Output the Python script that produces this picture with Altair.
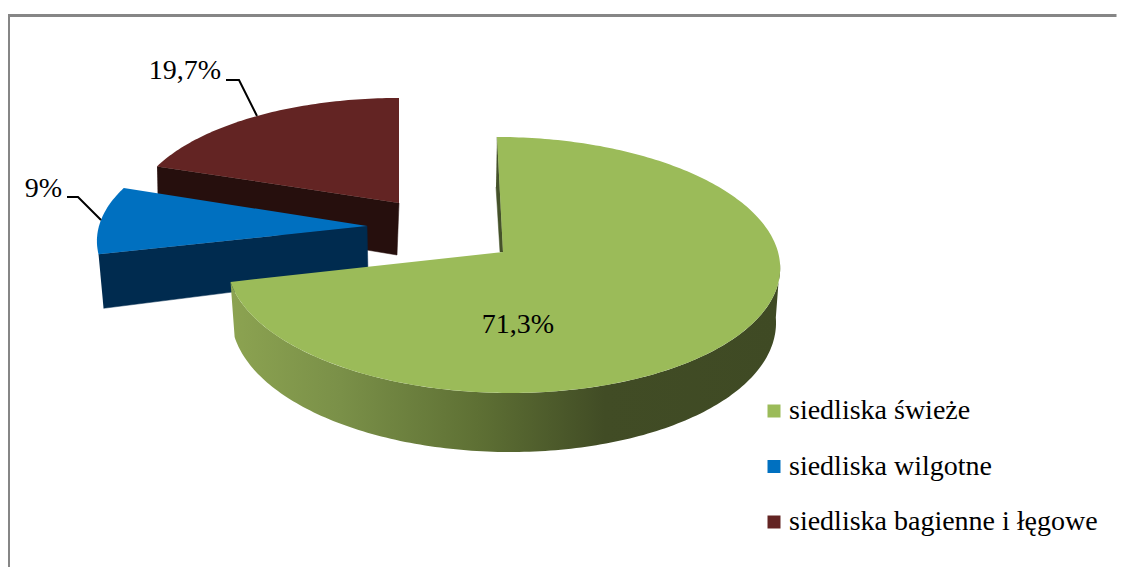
import math
import altair as alt
import pandas as pd

categories = ["siedliska świeże", "siedliska wilgotne", "siedliska bagienne i łęgowe"]
shares = [71.3, 9, 19.7]
labels = ["71,3%", "9%", "19,7%"]
colors = ["#9bbb59", "#0070c0", "#632423"]
FONT = "Liberation Serif"

# picture geometry of the exploded 3-D pie: apex x, apex y, radii, shear
apex = [(503, 252), (367, 226), (399, 203)]
radius_x = [275, 268, 264.5]
radius_y = [126.7, 120, 115.7]
shear = [-6.6, 6, 0]
persp = 0.1015

W, H = 1110, 560
X = alt.X("x:Q", scale=alt.Scale(domain=[8, 8 + W]), axis=None)
Y = alt.Y("y:Q", scale=alt.Scale(domain=[8 + H, 8]), axis=None)

starts = [0]
for s in shares:
    starts.append(starts[-1] + s * 3.6)


def project(i, deg):
    a = math.radians(deg)
    u, v = math.sin(a), math.cos(a)
    d = 1 + persp * v
    return apex[i][0] + (radius_x[i] * u + shear[i] * v) / d, apex[i][1] - radius_y[i] * v / d


def sweep(i, a0, a1):
    n = max(2, int(abs(a1 - a0)))
    return [project(i, a0 + (a1 - a0) * k / n) for k in range(n + 1)]


def shape(points, cat=None):
    rows = [{"x": p[0], "y": p[1], "o": k, "cat": cat} for k, p in enumerate(points)]
    return pd.DataFrame(rows)


def solid(points, fill):
    return alt.Chart(shape(points)).mark_line(fill=fill, stroke=fill, strokeWidth=0.5).encode(
        x=X, y=Y, order="o:Q")


def top(i):
    pts = [apex[i]] + sweep(i, starts[i], starts[i + 1])
    return alt.Chart(shape(pts, categories[i])).mark_line(strokeWidth=0).encode(
        x=X, y=Y, order="o:Q",
        fill=alt.Fill("cat:N", scale=alt.Scale(domain=categories, range=colors),
                      legend=alt.Legend(title=None, orient="none", legendX=752, legendY=389,
                                        symbolType="square", symbolSize=169, symbolStrokeWidth=0,
                                        labelFont=FONT, labelFontSize=28, labelColor="black",
                                        labelLimit=400, rowPadding=27.5, labelOffset=1, padding=0,
                                        symbolOffset=0)))


# green rim wall
a0, a1 = 95, starts[1]
front = sweep(0, a0, a1)
rim_v = [math.cos(math.radians(a0 + (a1 - a0) * k / (len(front) - 1))) for k in range(len(front))]
under = [(apex[0][0] + (p[0] - apex[0][0]) * 0.985, p[1] + 54 - 5 * v) for p, v in zip(front, rim_v)]
wall_fill = alt.Gradient(gradient="linear", x1=0, x2=1, y1=0, y2=0, stops=[
    alt.GradientStop(offset=0, color="#8ca351"),
    alt.GradientStop(offset=0.2, color="#7a9048"),
    alt.GradientStop(offset=0.45, color="#5e7034"),
    alt.GradientStop(offset=0.68, color="#414c25"),
    alt.GradientStop(offset=1, color="#3f4a24"),
])
green_wall = alt.Chart(shape(front + under[::-1])).mark_line(fill=wall_fill, strokeWidth=0).encode(
    x=X, y=Y, order="o:Q")

# radial faces
r0 = project(0, 0)
green_face = solid([r0, apex[0], (apex[0][0] - 3, apex[0][1]), (r0[0] - 1, r0[1] + 50)], "#45522a")
b = project(1, starts[1])
blue_face = solid([b, apex[1], (apex[1][0] + 1, apex[1][1] + 49), (b[0] + 5, b[1] + 54)], "#002b4f")
m = project(2, starts[2])
maroon_face = solid([m, apex[2], (apex[2][0] - 2, apex[2][1] + 52), (m[0] + 1, m[1] + 49)], "#260f0d")

# leader lines
leader_sets = [
    [(226, 80), (239, 80), (257, 116)],
    [(67, 197), (78, 197), (101, 220)],
]
leaders = [
    alt.Chart(shape(s)).mark_line(color="black", strokeWidth=2).encode(x=X, y=Y, order="o:Q")
    for s in leader_sets
]

text_df = pd.DataFrame({"x": [518, 43.5, 185], "y": [333, 197, 79], "t": labels})
texts = alt.Chart(text_df).mark_text(font=FONT, fontSize=28, color="black", baseline="alphabetic",
                                     align="center").encode(x=X, y=Y, text="t:N")

frame_top = alt.Chart(pd.DataFrame({"x": [9.5], "x2": [8 + W - 1.5], "y": [15.5]})).mark_rule(
    color="#868686", strokeWidth=3).encode(x=X, x2="x2:Q", y=Y)
frame_left = alt.Chart(pd.DataFrame({"x": [9], "y": [14], "y2": [8 + H - 1]})).mark_rule(
    color="#868686", strokeWidth=2).encode(x=X, y=Y, y2="y2:Q")

chart = alt.layer(
    frame_top, frame_left,
    maroon_face, top(2),
    blue_face, top(1),
    green_face, green_wall, top(0),
    *leaders, texts,
).properties(width=W, height=H, padding=0, background="white").configure_view(stroke=None)

chart.save("out.html", embed_options={"renderer": "svg", "actions": False})
